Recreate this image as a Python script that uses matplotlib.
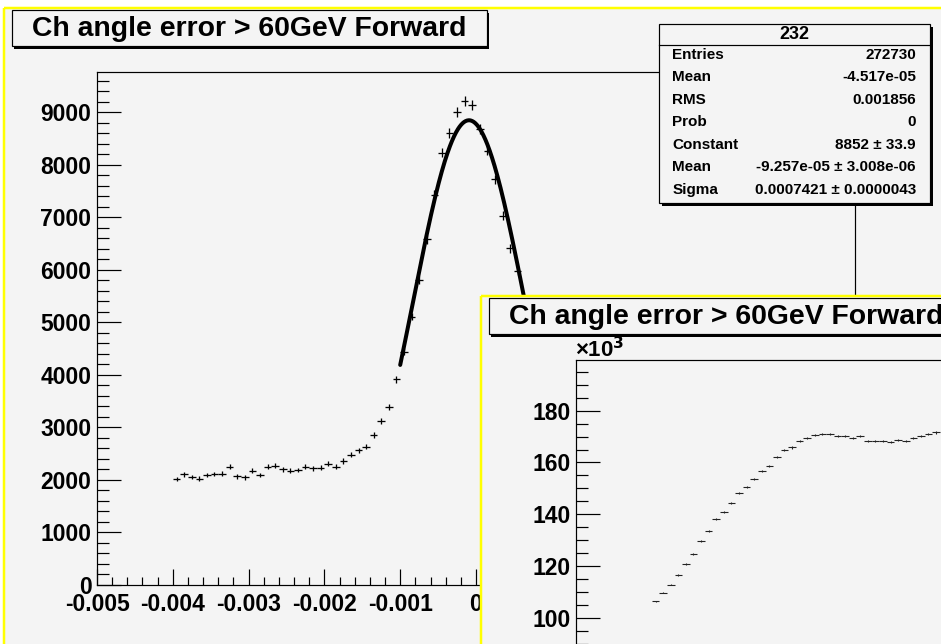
import numpy as np
import matplotlib
matplotlib.use("Agg")
import matplotlib.pyplot as plt
from matplotlib.patches import Rectangle
from matplotlib.ticker import MultipleLocator, FuncFormatter

# ---------------- data ----------------
title_text = "Ch angle error > 60GeV Forward"

# main histogram (visible bins), bin width 0.0001, centres start at -0.00395
main_x = [-0.00395, -0.00385, -0.00375, -0.00365, -0.00355, -0.00345, -0.00335,
          -0.00325, -0.00315, -0.00305, -0.00295, -0.00285, -0.00275, -0.00265,
          -0.00255, -0.00245, -0.00235, -0.00225, -0.00215, -0.00205, -0.00195,
          -0.00185, -0.00175, -0.00165, -0.00155, -0.00145, -0.00135, -0.00125,
          -0.00115, -0.00105, -0.00095, -0.00085, -0.00075, -0.00065, -0.00055,
          -0.00045, -0.00035, -0.00025, -0.00015, -0.00005, 0.00005, 0.00015,
          0.00025, 0.00035, 0.00045, 0.00055]
main_y = [2019, 2108, 2057, 2025, 2095, 2114, 2120, 2254, 2070, 2051, 2178,
          2095, 2254, 2273, 2203, 2178, 2190, 2248, 2222, 2229, 2311, 2248,
          2362, 2483, 2565, 2635, 2857, 3130, 3384, 3915, 4444, 5110, 5810,
          6584, 7429, 8235, 8603, 9003, 9225, 9143, 8690, 8272, 7727, 7034,
          6413, 5987]

# fit parameters (from stats box)
fit_const = 8852.0
fit_mean = -9.257e-05
fit_sigma = 0.0007421
fit_range = (-0.001, 0.001)

stats_title = "232"
stats_labels = ["Entries", "Mean", "RMS", "Prob", "Constant", "Mean", "Sigma"]
stats_values = ["272730", "-4.517e-05", "0.001856", "0",
                "8852 \u00b1 33.9", "-9.257e-05 \u00b1 3.008e-06",
                "0.0007421 \u00b1 0.0000043"]

# inner (second) histogram, visible bins
inner_x = [-0.00395 + 0.0001 * i for i in range(38)]
inner_y = [106300, 109700, 112800, 116500, 120600, 124500, 129600, 133400,
           138300, 140900, 144400, 148200, 150400, 153500, 156700, 158700,
           162000, 164800, 165800, 168400, 169500, 170600, 171100, 171100,
           170100, 170200, 169600, 170100, 168400, 168400, 168300, 167800,
           168800, 168400, 169500, 170200, 171100, 171600]

main_yticks = [0, 1000, 2000, 3000, 4000, 5000, 6000, 7000, 8000, 9000]
inner_yticks = [100000, 120000, 140000, 160000, 180000]
xticks = [-0.005, -0.004, -0.003, -0.002, -0.001, 0.0]
xtick_labels = ["-0.005", "-0.004", "-0.003", "-0.002", "-0.001", "0"]

# ---------------- style ----------------
W, H = 941, 644
DPI = 100
GREY = "#f4f4f4"
YELLOW = "#ffff00"
plt.rcParams["font.family"] = ["Liberation Sans", "DejaVu Sans"]
plt.rcParams["font.weight"] = "bold"
PT = 72.0 / DPI  # points per pixel

fig = plt.figure(figsize=(W / DPI, H / DPI), dpi=DPI, facecolor="white")


def px_axes(l, t, w, h, z):
    ax = fig.add_axes([l / W, 1 - (t + h) / H, w / W, h / H])
    ax.set_zorder(z)
    return ax


def px_layer(z):
    ax = px_axes(0, 0, W, H, z)
    ax.set_xlim(0, W)
    ax.set_ylim(H, 0)
    ax.axis("off")
    ax.patch.set_alpha(0)
    return ax


def pave(ax, x, y, w, h, shadow=3):
    ax.add_patch(Rectangle((x + shadow, y + shadow), w, h, facecolor="black",
                           edgecolor="none", clip_on=False))
    ax.add_patch(Rectangle((x, y), w, h, facecolor=GREY, edgecolor="black",
                           linewidth=1.2 * PT, clip_on=False))


def pad_background(ax, x0, y0):
    ax.add_patch(Rectangle((x0, y0), W + 50, H + 50, facecolor=GREY,
                           edgecolor="none", clip_on=False))
    ax.plot([x0, x0], [y0, H + 10], color=YELLOW, lw=2.5 * PT, clip_on=False,
            solid_capstyle="butt")
    ax.plot([x0, W + 10], [y0, y0], color=YELLOW, lw=2.5 * PT, clip_on=False,
            solid_capstyle="butt")


def style_axes(ax):
    ax.set_facecolor(GREY)
    for s in ax.spines.values():
        s.set_linewidth(1.2 * PT)
        s.set_color("black")
    ax.tick_params(axis="both", which="both", direction="in", colors="black",
                   top=False, right=False, labelsize=16.5)
    ax.tick_params(axis="y", which="major", length=24 * PT, width=1.2 * PT, pad=4)
    ax.tick_params(axis="y", which="minor", length=12 * PT, width=1.2 * PT)
    ax.tick_params(axis="x", which="major", length=16 * PT, width=1.2 * PT, pad=6)
    ax.tick_params(axis="x", which="minor", length=8 * PT, width=1.2 * PT)


# ---------- pad 1 ----------
bg1 = px_layer(0)
pad_background(bg1, 4, 8)
pave(bg1, 12, 10, 475, 36, shadow=2.5)
bg1.text(249.5, 28.5, title_text, ha="center", va="center", fontsize=20.4,
         fontweight="bold")

ax1 = px_axes(97, 71.7, 758, 513.3, 2)
style_axes(ax1)
ax1.set_xlim(-0.005, 0.005)
ax1.set_ylim(0, 9777)
ax1.set_xticks(xticks)
ax1.set_xticklabels(xtick_labels, fontweight="bold")
ax1.xaxis.set_minor_locator(MultipleLocator(0.0002))
ax1.set_yticks(main_yticks)
ax1.yaxis.set_major_formatter(FuncFormatter(lambda v, p: "%d" % round(v)))
ax1.yaxis.set_minor_locator(MultipleLocator(200))
for lab in ax1.get_xticklabels() + ax1.get_yticklabels():
    lab.set_fontweight("bold")

mx = np.array(main_x)
my = np.array(main_y, dtype=float)
ax1.errorbar(mx, my, xerr=0.00005, yerr=np.sqrt(my), fmt="none",
             ecolor="black", elinewidth=1.3 * PT, capsize=0)
fx = np.linspace(fit_range[0], fit_range[1], 300)
fy = fit_const * np.exp(-0.5 * ((fx - fit_mean) / fit_sigma) ** 2)
ax1.plot(fx, fy, color="black", lw=4.0 * PT, solid_capstyle="round")

# stats box
ov1 = px_layer(3)
pave(ov1, 659, 24, 271, 179, shadow=3)
ov1.plot([659, 930], [45, 45], color="black", lw=1.2 * PT)
ov1.text(794.5, 34.5, stats_title, ha="center", va="center", fontsize=13,
         fontweight="bold")
for i, (lab, val) in enumerate(zip(stats_labels, stats_values)):
    yy = 54.5 + 22.5 * i
    ov1.text(672.5, yy, lab, ha="left", va="center", fontsize=11,
             fontweight="bold")
    ov1.text(916, yy, val, ha="right", va="center", fontsize=11,
             fontweight="bold")

# ---------- pad 2 ----------
bg2 = px_layer(4)
pad_background(bg2, 481, 296)
pave(bg2, 489, 298, 475, 36, shadow=2.5)
bg2.text(726.5, 316.5, title_text, ha="center", va="center", fontsize=20.4,
         fontweight="bold")
bg2.text(575, 350, "\u00d710$^{\\mathbf{3}}$", ha="left", va="center",
         fontsize=16, fontweight="bold")

ax2 = px_axes(576, 360, 758, 513.3, 5)
style_axes(ax2)
ax2.set_xlim(-0.005, 0.005)
ax2.set_ylim(1200, 199600)
ax2.set_xticks(xticks)
ax2.xaxis.set_minor_locator(MultipleLocator(0.0002))
ax2.tick_params(axis="x", labelbottom=False)
ax2.set_yticks(inner_yticks)
ax2.yaxis.set_major_formatter(FuncFormatter(lambda v, p: "%d" % round(v / 1000)))
ax2.yaxis.set_minor_locator(MultipleLocator(5000))
for lab in ax2.get_yticklabels():
    lab.set_fontweight("bold")

ix = np.array(inner_x)
iy = np.array(inner_y, dtype=float)
ax2.errorbar(ix, iy, xerr=0.00005, yerr=np.sqrt(iy), fmt="none",
             ecolor="#222222", elinewidth=1.1 * PT, capsize=0)

fig.savefig("out.png", dpi=DPI, facecolor="white")
